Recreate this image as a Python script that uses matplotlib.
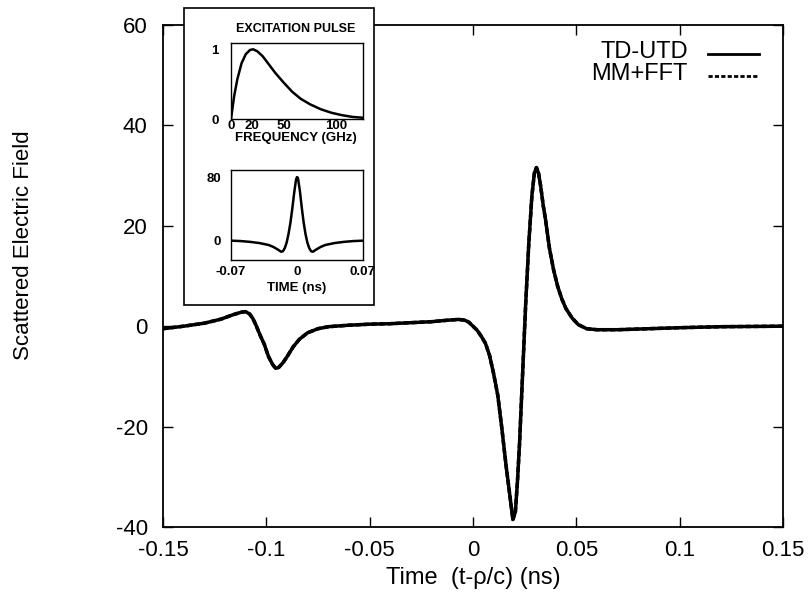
import matplotlib
matplotlib.use("Agg")
import matplotlib.pyplot as plt
from matplotlib.patches import Rectangle

plt.rcParams["font.family"] = ["Liberation Sans", "DejaVu Sans"]
plt.rcParams["axes.unicode_minus"] = False

# ── data ────────────────────────────────────────────────────────────────
time_ns = [-0.150, -0.140, -0.130, -0.122, -0.116, -0.112, -0.110, -0.108,
           -0.1065, -0.105, -0.103, -0.101, -0.099, -0.097, -0.0955, -0.094,
           -0.092, -0.090, -0.087, -0.084, -0.080, -0.075, -0.070, -0.060,
           -0.050, -0.040, -0.030, -0.020, -0.012, -0.007, -0.004, -0.002,
           0.000, 0.002, 0.004, 0.006, 0.008, 0.010, 0.012, 0.014, 0.016,
           0.018, 0.0193, 0.0205, 0.0215, 0.0225, 0.024, 0.0255, 0.027,
           0.0285, 0.0297, 0.0307, 0.0317, 0.0327, 0.0340, 0.035, 0.037,
           0.039, 0.041, 0.043, 0.045, 0.048, 0.051, 0.055, 0.060, 0.070,
           0.085, 0.100, 0.120, 0.150]
td_utd = [-0.5, 0.0, 0.6, 1.4, 2.3, 2.8, 2.9, 2.4,
          1.5, 0.2, -1.8, -3.6, -6.0, -7.6, -8.4, -8.2,
          -7.3, -6.1, -4.1, -2.6, -1.3, -0.5, -0.1, 0.2,
          0.4, 0.5, 0.7, 0.9, 1.2, 1.35, 1.2, 0.8,
          0.0, -0.8, -2.0, -3.4, -5.8, -9.5, -13.8, -20.5, -27.8,
          -34.3, -38.5, -37.0, -31.0, -23.5, -9.5, 4.5, 16.5,
          26.0, 30.5, 31.6, 30.5, 28.0, 24.0, 21.5, 15.5,
          11.2, 7.9, 5.4, 3.5, 1.6, 0.3, -0.5, -0.7, -0.7,
          -0.5, -0.3, -0.1, 0.0]
mm_fft = list(td_utd)  # overlaps TD-UTD everywhere in the figure

freq_ghz = [0, 3, 6, 10, 14, 18, 21, 25, 30, 36, 42, 50, 58, 66, 75, 85,
            95, 105, 115, 125]
spectrum = [0.0, 0.33, 0.57, 0.80, 0.93, 0.99, 1.0, 0.97, 0.90, 0.78, 0.66,
            0.52, 0.39, 0.29, 0.21, 0.14, 0.09, 0.055, 0.03, 0.018]

pulse_t = [-0.07, -0.06, -0.05, -0.04, -0.03, -0.025, -0.02, -0.017, -0.015,
           -0.013, -0.011, -0.009, -0.007, -0.005, -0.003, -0.001, 0.0, 0.001,
           0.003, 0.005, 0.007, 0.009, 0.011, 0.013, 0.015, 0.017, 0.02,
           0.025, 0.03, 0.04, 0.05, 0.06, 0.07]
pulse_v = [-0.5, -1.0, -2.0, -3.5, -6.0, -8.5, -12.0, -14.5, -14.0,
           -10.0, -3.0, 8.0, 22.0, 40.0, 60.0, 77.0, 80.0, 79.0,
           63.0, 42.0, 23.0, 8.0, -3.0, -10.0, -14.0, -14.5, -12.0,
           -8.5, -6.0, -3.5, -2.0, -1.0, -0.5]

x_ticks = [-0.15, -0.1, -0.05, 0, 0.05, 0.1, 0.15]
x_ticklabels = ["-0.15", "-0.1", "-0.05", "0", "0.05", "0.1", "0.15"]
y_ticks = [-40, -20, 0, 20, 40, 60]

W, H = 812, 601
fig = plt.figure(figsize=(W / 100, H / 100), dpi=100)
fig.patch.set_facecolor("white")

def fx(px):
    return px / W

def fy(py):
    return 1 - py / H

# ── main axes ───────────────────────────────────────────────────────────
ax = fig.add_axes([fx(163), fy(527), (783 - 163) / W, (527 - 25) / H])
ax.plot(time_ns, td_utd, color="black", lw=2.5, solid_joinstyle="round")
ax.plot(time_ns, mm_fft, color="black", lw=2.5, dashes=(1.5, 0.8))
ax.set_xlim(-0.15, 0.15)
ax.set_ylim(-40, 60)
ax.set_xticks(x_ticks)
ax.set_xticklabels(x_ticklabels)
ax.set_yticks(y_ticks)
ax.tick_params(direction="in", length=7, width=1, labelsize=16,
               top=True, right=True)
ax.tick_params(axis="x", pad=9)
ax.tick_params(axis="y", pad=11)
for s in ax.spines.values():
    s.set_linewidth(1.3)

fig.text(fx(473), fy(578), "Time  (t-\u03c1/c) (ns)", ha="center", va="center",
         fontsize=17)
fig.text(fx(24), fy(245), "Scattered Electric Field", ha="center",
         va="center", rotation=90, fontsize=16)

# legend
fig.text(fx(688), fy(52), "TD-UTD", ha="right", va="center", fontsize=17)
fig.text(fx(688), fy(74), "MM+FFT", ha="right", va="center", fontsize=17)
fig.add_artist(plt.Line2D([fx(708), fx(759)], [fy(54), fy(54)],
                          color="black", lw=2))
fig.add_artist(plt.Line2D([fx(708), fx(759)], [fy(76), fy(76)],
                          color="black", lw=2, dashes=(1.5, 0.8)))

# ── inset box ───────────────────────────────────────────────────────────
fig.add_artist(Rectangle((fx(184), fy(305)), (374 - 184) / W, (305 - 8) / H,
                         transform=fig.transFigure, facecolor="white",
                         edgecolor="black", lw=1.2, zorder=5))

ins1 = fig.add_axes([fx(231), fy(119), (363 - 231) / W, (119 - 43) / H],
                    zorder=6)
ins1.plot(freq_ghz, spectrum, color="black", lw=1.8)
ins1.set_xlim(0, 125)
ins1.set_ylim(0, 1.09)
ins1.set_xticks([0, 20, 50, 100])
ins1.set_yticks([0, 1])
ins1.tick_params(length=0, labelsize=9.5, pad=1)
ins1.tick_params(axis="y", pad=9)
for lab in ins1.get_xticklabels() + ins1.get_yticklabels():
    lab.set_fontweight("bold")
fig.text(fx(296), fy(29), "EXCITATION PULSE", ha="center", va="center",
         fontsize=9, fontweight="bold", zorder=7)
fig.text(fx(296), fy(138), "FREQUENCY (GHz)", ha="center", va="center",
         fontsize=9.5, fontweight="bold", zorder=7)

ins2 = fig.add_axes([fx(231), fy(260), (363 - 231) / W, (260 - 170) / H],
                    zorder=6)
ins2.plot(pulse_t, pulse_v, color="black", lw=1.8)
ins2.set_xlim(-0.07, 0.07)
ins2.set_ylim(-25, 89)
ins2.set_xticks([-0.07, 0, 0.07])
ins2.set_xticklabels(["-0.07", "0", "0.07"])
ins2.set_yticks([0, 80])
ins2.tick_params(length=0, labelsize=9.5, pad=4)
ins2.tick_params(axis="y", pad=7)
for lab in ins2.get_xticklabels() + ins2.get_yticklabels():
    lab.set_fontweight("bold")
fig.text(fx(297), fy(288), "TIME (ns)", ha="center", va="center",
         fontsize=9.5, fontweight="bold", zorder=7)

for a in (ins1, ins2):
    for s in a.spines.values():
        s.set_linewidth(1.0)

fig.savefig("out.png", dpi=100, facecolor="white")
